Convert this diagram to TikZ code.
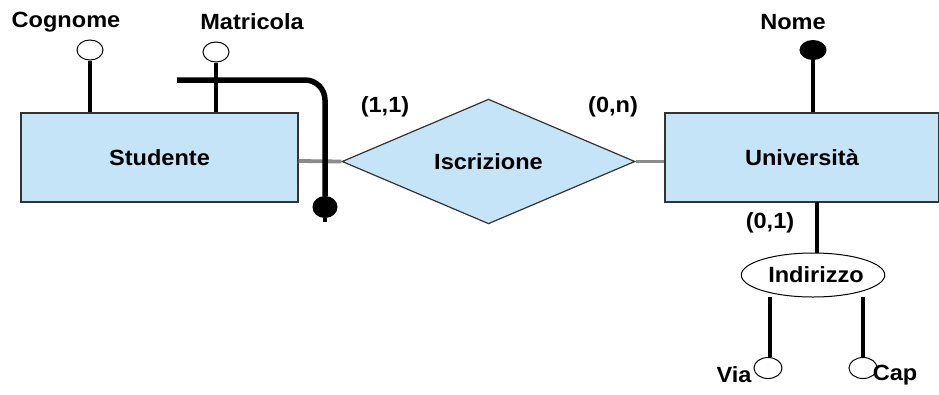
\documentclass[tikz,border=0pt]{standalone}
\usepackage{fontspec}
\setmainfont{Liberation Sans}[FakeStretch=1.07]
\usetikzlibrary{shapes.geometric}
\definecolor{erfill}{HTML}{C6E4F8}
\definecolor{relgray}{HTML}{8C8C8C}
\begin{document}
\begin{tikzpicture}[x=1pt,y=-1pt,
  lbl/.style={font=\fontsize{22}{26}\selectfont\bfseries, inner sep=0pt, anchor=center},
  entity/.style={draw=black!80, line width=1.2pt, fill=erfill, minimum width=277pt, minimum height=89pt, inner sep=0pt, font=\fontsize{22}{26}\selectfont\bfseries},
  relation/.style={diamond, draw=black!80, line width=1.2pt, fill=erfill, minimum width=293pt, minimum height=123pt, inner sep=0pt, font=\fontsize{22}{26}\selectfont\bfseries},
  attrw/.style={ellipse, draw=black, line width=1pt, fill=white, minimum width=26pt, minimum height=20pt, inner sep=0pt},
  attrb/.style={ellipse, draw=black, line width=1pt, fill=black, minimum width=26pt, minimum height=19pt, inner sep=0pt},
  link/.style={line width=3.2pt, draw=black},
  rel/.style={line width=3.8pt, draw=relgray}]
\useasboundingbox (0,0) rectangle (939,394);
% entities and relation
\node[entity] (stud) at (159.5,157.5) {Studente};
\node[entity, minimum width=274pt] (univ) at (802,157.5) {Università};
\node[relation] (iscr) at (488.5,161.5) {Iscrizione};
% relation links
\draw[rel] (stud.east |- 0,161) -- (iscr.west);
\draw[rel] (iscr.east) -- (univ.west |- iscr.east);
% cardinalities
\node[lbl] (c11) at (385,107) {(1,1)};
\node[lbl] (c0n) at (613,107) {(0,n)};
\node[lbl] (c01) at (770,223) {(0,1)};
% Studente attributes
\node[attrw] (cogc) at (90,50) {};
\node[lbl] (cog) at (66,22) {Cognome};
\draw[link] (cogc.south) -- (cogc.south |- stud.north);
\node[attrw] (matc) at (216,52) {};
\node[lbl] (mat) at (252,22) {Matricola};
\draw[link] (matc.south) -- (matc.south |- stud.north);
% external identifier
\node[attrb, minimum width=24pt, minimum height=21pt] (idc) at (325,207) {};
\coordinate (idstart) at (177,80);
\coordinate (idend) at (325,222);
\draw[line width=5.5pt, rounded corners=20pt] (idstart) -- (325,80) -- (idc.north);
\draw[line width=4pt] (idc.south) -- (idend);
% Universita attributes
\node[attrb] (nomc) at (813,50) {};
\node[lbl] (nom) at (793,22) {Nome};
\draw[link] (nomc.south) -- (nomc.south |- univ.north);
% composite attribute
\node[ellipse, draw=black, line width=1pt, fill=white, minimum width=136pt, minimum height=44pt, inner sep=0pt, font=\fontsize{22}{26}\selectfont\bfseries] (ind) at (813,275) {\hspace*{6pt}Indirizzo};
\draw[link] (817,202) coordinate (ut) -- (ind.north -| ut);
\node[attrw, minimum width=28pt, minimum height=21pt] (viac) at (768,368) {};
\node[lbl] (via) at (734,375) {Via};
\node[attrw, minimum width=28pt, minimum height=21pt] (capc) at (863,368) {};
\node[lbl] (cap) at (895,375) {Cap};
\coordinate (indl) at (770,297);
\coordinate (indr) at (863,297);
\draw[link] (indl) -- (indl |- viac.north);
\draw[link] (indr) -- (capc.north);
\end{tikzpicture}
\end{document}
